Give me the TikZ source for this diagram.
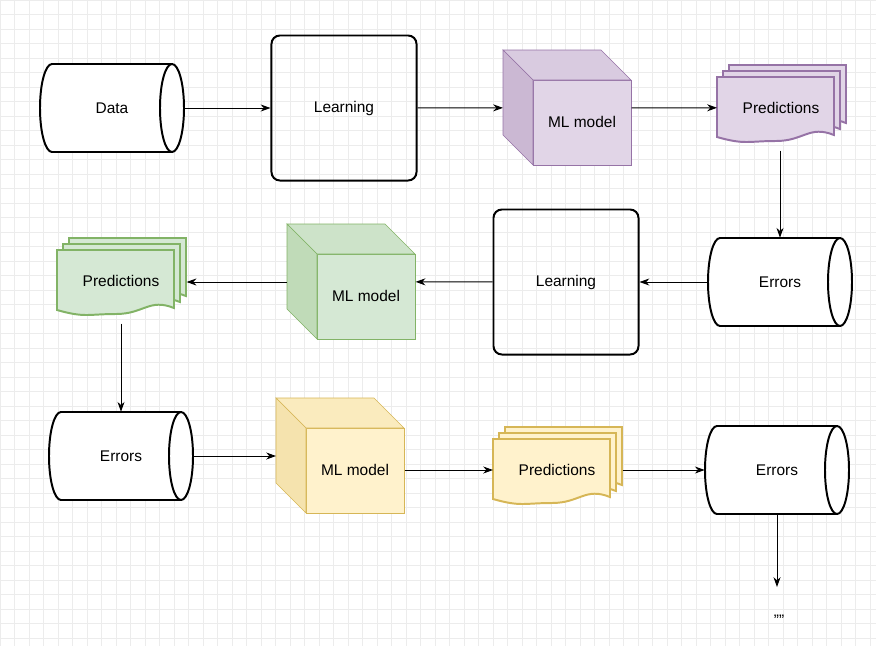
\documentclass[tikz,border=0pt]{standalone}
\usepackage{fontspec}
\setmainfont{Liberation Sans}
\usetikzlibrary{arrows.meta,calc}

\definecolor{purpfill}{HTML}{E1D5E7}
\definecolor{purpline}{HTML}{9673A6}
\definecolor{greenfill}{HTML}{D5E8D4}
\definecolor{greenline}{HTML}{82B366}
\definecolor{yellfill}{HTML}{FFF2CC}
\definecolor{yellline}{HTML}{D6B656}

\tikzset{
  box/.style={draw, line width=1.4pt, rounded corners=6pt, minimum size=3.625cm, font=\fontsize{11}{13}\selectfont},
  spot/.style={inner sep=0pt, font=\fontsize{11}{13}\selectfont},
  flow/.style={-{Stealth[length=7pt,width=5pt]}, line width=0.7pt}
}

% cylinder: name, x, y, text
\newcommand\drum[4]{%
  \node[spot, minimum width=3.6cm, minimum height=2.2cm] (#1) at (#2,#3) {};
  \draw[line width=1.4pt, fill=white] (#2,#3) ++(-60,-44) -- ++(120,0)
    arc[start angle=-90, end angle=90, x radius=12, y radius=44] -- ++(-120,0)
    arc[start angle=90, end angle=270, x radius=12, y radius=44] -- cycle;
  \draw[line width=1.4pt] (#2,#3) ++(60,44) arc[start angle=90, end angle=270, x radius=12, y radius=44];
  \node[spot] at (#2,#3) {#4};
}
% cube: name, left x, top y, fill, side, top, line, text
\newcommand\block[8]{%
  \node[spot, minimum width=3.2cm, minimum height=2.875cm, anchor=north west] (#1) at (#2,#3) {};
  \draw[#7, fill=#4] (#2,#3) ++(30,30) rectangle ++(98,85);
  \draw[#7, fill=#6] (#2,#3) -- ++(98,0) -- ++(30,30) -- ++(-98,0) -- cycle;
  \draw[#7, fill=#5] (#2,#3) -- ++(30,30) -- ++(0,85) -- ++(-30,-30) -- cycle;
  \node[spot] at ($(#2,#3)+(79,72)$) {#8};
}
% stacked pages: name, left x, top y, fill, line, text
\newcommand\sheet[3]{%
  \draw[#3, fill=#2, line width=1.4pt] (#1) -- ++(117,0) -- ++(0,58)
    .. controls ++(-25,-10) and ++(28,0) .. ++(-58,6)
    .. controls ++(-28,0) and ++(28,8) .. ++(-59,-4) -- cycle;
}
\newcommand\pages[6]{%
  \node[spot, minimum width=3.225cm, minimum height=2.125cm, anchor=north west] (#1) at (#2,#3) {};
  \sheet{$(#2,#3)+(12,0)$}{#4}{#5}
  \sheet{$(#2,#3)+(6,6)$}{#4}{#5}
  \sheet{$(#2,#3)+(0,12)$}{#4}{#5}
  \node[spot] at ($(#2,#3)+(64,43)$) {#6};
}

\begin{document}
\begin{tikzpicture}[x=0.025cm, y=-0.025cm]
  \useasboundingbox (0,0) rectangle (876,646);
  \foreach \g in {0,14.5,...,876} \draw[gray!15] (\g,0) -- (\g,646);
  \foreach \g in {0,14.5,...,646} \draw[gray!15] (0,\g) -- (876,\g);
  % first row
  \drum{data}{112}{108}{Data}
  \node[box] (learnA) at (344,108) {Learning};
  \block{modelA}{503}{50}{purpfill}{purpfill!70!purpline}{purpfill!90!purpline}{purpline}{ML model}
  \pages{predA}{717}{65}{purpfill}{purpline}{Predictions}
  % second row
  \drum{errA}{780}{282}{Errors}
  \node[box] (learnB) at (566,282) {Learning};
  \block{modelB}{287}{224}{greenfill}{greenfill!75!greenline}{greenfill!90!greenline}{greenline}{ML model}
  \pages{predB}{57}{238}{greenfill}{greenline}{Predictions}
  % third row
  \drum{errB}{121}{456}{Errors}
  \block{modelC}{276}{398}{yellfill}{yellfill!75!yellline}{yellfill!88!yellline}{yellline}{ML model}
  \pages{predC}{493}{427}{yellfill}{yellline}{Predictions}
  \drum{errC}{777}{470}{Errors}
  \coordinate (more) at (777,587);
  \node[spot] (dots) at (779,617) {,,,,};
  % connectors
  \draw[flow] (data) -- (learnA);
  \draw[flow] (learnA) -- (modelA);
  \draw[flow] (modelA) -- (predA);
  \draw[flow] (predA.south -| errA) -- (errA);
  \draw[flow] (errA) -- (learnB);
  \draw[flow] (learnB) -- (modelB);
  \draw[flow] (modelB.west |- 282,282) -- (predB.east |- 282,282);
  \draw[flow] (predB.south -| errB) -- (errB);
  \draw[flow] (errB) -- (errB -| modelC.west);
  \draw[flow] (modelC.east |- errC) -- (predC.west |- errC);
  \draw[flow] (predC.east |- errC) -- (errC);
  \draw[flow] (errC.south) -- (more);
\end{tikzpicture}
\end{document}
